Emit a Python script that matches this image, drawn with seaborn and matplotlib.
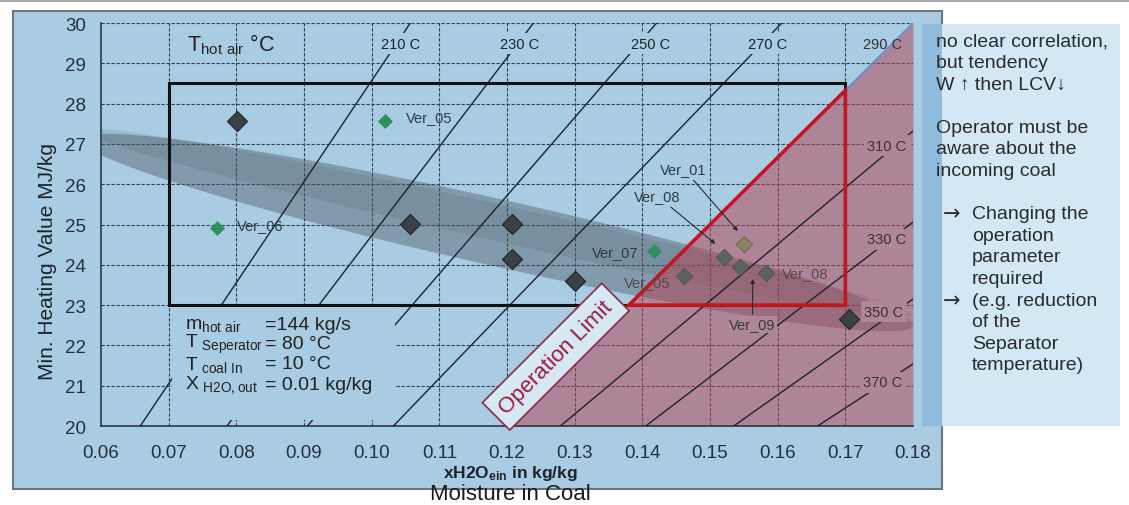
"""Drying chart: LCV vs. coal moisture with hot-air isotherms and operation limit."""

import numpy as np
import pandas as pd
import seaborn as sns
import matplotlib.pyplot as plt
from matplotlib.patches import Rectangle, Polygon

# hot-air isotherms (deg C), end points in (moisture kg/kg, LCV MJ/kg)
iso_temp = [210, 230, 250, 270, 310, 330, 350, 370]
iso_x0 = [0.0658, 0.0786, 0.0905, 0.1032, 0.1279, 0.1405, 0.1535, 0.1659]
iso_y0 = [20, 20, 20, 20, 20, 20, 20, 20]
iso_x1 = [0.1057, 0.1239, 0.1421, 0.1606, 0.18, 0.18, 0.18, 0.18]
iso_y1 = [30, 30, 30, 30, 27.32, 25.06, 23.15, 21.54]

iso_lbl_temp = [210, 230, 250, 270, 290, 310, 330, 350, 370]
iso_lbl_x = [0.1042, 0.1218, 0.1412, 0.1585, 0.1755, 0.1761, 0.1761, 0.1757, 0.1755]
iso_lbl_y = [29.48, 29.48, 29.48, 29.48, 29.48, 26.95, 24.64, 22.83, 21.09]

# 290 C isotherm = operation limit
limit_x = [0.12, 0.18]
limit_y = [20, 30]

# operating window and limited zone
window_x = [0.07, 0.17]
window_y = [23, 28.5]
tri_x = [0.138, 0.17, 0.17]
tri_y = [23, 28.33, 23]

# trend band (tips and half height)
band_left = (0.057, 27.1)
band_right = (0.18, 22.5)
band_half = 0.85

# trial points
dark_x = [0.0801, 0.1057, 0.1208, 0.1208, 0.1301, 0.1705]
dark_y = [27.57, 25.01, 25.01, 24.14, 23.60, 22.66]
green_x = [0.1020, 0.0772, 0.1417]
green_y = [27.57, 24.91, 24.34]
faded_x = [0.1550, 0.1520, 0.1545, 0.1582, 0.1461]
faded_y = [24.52, 24.19, 23.95, 23.80, 23.72]

ver_names = ["Ver_05", "Ver_06", "Ver_07"]
ver_x = [0.1050, 0.0801, 0.1394]
ver_y = [27.68, 24.99, 24.32]
ver_ha = ["left", "left", "right"]
faded_names = ["Ver_05", "Ver_08"]
faded_lx = [0.1442, 0.1607]
faded_ly = [23.57, 23.80]
faded_ha = ["right", "left"]

arrow_names = ["Ver_01", "Ver_08", "Ver_09"]
arrow_tx = [0.1461, 0.1422, 0.1563]
arrow_ty = [26.38, 25.71, 22.53]
arrow_px = [0.1541, 0.1508, 0.1563]
arrow_py = [24.84, 24.52, 23.65]

param_names = [r"$\mathregular{m_{hot\ air}}$", r"$\mathregular{T_{\ Seperator}}$",
               r"$\mathregular{T_{\ coal\ In}}$", r"$\mathregular{X_{\ H2O,out}}$"]
param_values = ["=144 kg/s", "= 80 °C", "= 10 °C", "= 0.01 kg/kg"]
param_y = [22.53, 22.04, 21.54, 21.04]

panel_lines = [
    (0, "no clear correlation,"), (0, "but tendency"), (0, "W ↑ then LCV↓"), (0, ""),
    (0, "Operator must be"), (0, "aware about the"), (0, "incoming coal"), (0, ""),
    (1, "Changing the"), (1, "operation"), (1, "parameter"), (1, "required"),
    (1, "(e.g. reduction"), (1, "of the"), (1, "Separator"), (1, "temperature)"),
]
panel_arrows = [8, 12]

BG = "#a9cce3"
PINK = "#b4404f"
PINK_MIX = "#ae8698"
INK = "#1c232a"

sns.set_style("white")
plt.rcParams["font.family"] = ["Liberation Sans", "DejaVu Sans"]
plt.rcParams["mathtext.fontset"] = "custom"
plt.rcParams["mathtext.rm"] = "Liberation Sans"
plt.rcParams["mathtext.bf"] = "Liberation Sans:bold"

fig = plt.figure(figsize=(11.29, 5.06), dpi=100)
fig.patch.set_facecolor("white")
fig.patches.append(Rectangle((0, 1 - 3 / 506), 1, 3 / 506, transform=fig.transFigure,
                             fc="#a8a8a8", lw=0, zorder=-2))
fig.patches.append(Rectangle((0.0115, 0.0316), 0.8229, 0.9447, transform=fig.transFigure,
                             fc=BG, ec="#6c7680", lw=1.5, zorder=-2))
fig.patches.append(Rectangle((0.8167, 0.1561), 0.1754, 0.7945, transform=fig.transFigure,
                             fc="#d3e7f4", lw=0, zorder=-1))
fig.patches.append(Rectangle((0.8167, 0.1561), 0.0177, 0.7945, transform=fig.transFigure,
                             fc="#8fbcdc", lw=0, zorder=-1))

ax = fig.add_axes([0.0895, 0.1561, 0.7192, 0.7964])
ax.set_facecolor(BG)
ax.set_xlim(0.06, 0.18)
ax.set_ylim(20, 30)

xt = np.round(np.arange(0.06, 0.1801, 0.01), 2)
yt = np.arange(20, 31, 1)
ax.set_xticks(xt)
ax.set_xticklabels([f"{v:.2f}" for v in xt])
ax.set_yticks(yt)
ax.set_xticks(np.arange(0.06, 0.1801, 0.002), minor=True)
ax.set_yticks(np.arange(20, 30.01, 0.2), minor=True)

# grid
ax.vlines(xt[1:-1], 20, 30, colors="#34404a", lw=0.8, linestyles=(0, (3, 1.5)), zorder=1)
ax.hlines(yt[1:], 0.06, 0.18, colors="#34404a", lw=0.8, linestyles=(0, (3, 1.5)), zorder=1)

# trend band
t = np.linspace(0, 2 * np.pi, 200)
cx = (band_left[0] + band_right[0]) / 2
cy = (band_left[1] + band_right[1]) / 2
hx = (band_right[0] - band_left[0]) / 2
hy = (band_right[1] - band_left[1]) / 2
bx = cx + np.cos(t) * hx
by = cy + np.cos(t) * hy + np.sin(t) * band_half
ax.add_patch(Polygon(np.c_[bx, by], closed=True, fc="#4a5660", alpha=0.42, lw=0, zorder=1.5))
by2 = cy + 0.25 + np.cos(t) * hy + np.sin(t) * band_half * 0.55
ax.add_patch(Polygon(np.c_[bx, by2], closed=True, fc="#4a5660", alpha=0.15, lw=0, zorder=1.6))

# operation limit zone
ax.fill_between(limit_x, limit_y, 20, color=PINK, alpha=0.5, lw=0, zorder=2)

# isotherms
iso_df = pd.DataFrame({
    "temp": np.repeat(iso_temp, 2),
    "x": np.ravel(np.c_[iso_x0, iso_x1]),
    "y": np.ravel(np.c_[iso_y0, iso_y1]),
})
sns.lineplot(data=iso_df, x="x", y="y", units="temp", estimator=None, sort=False,
             color=INK, lw=1.0, ax=ax, zorder=3)
x_top = window_x[1]
y_top = np.interp(x_top, limit_x, limit_y)
ax.plot([x_top, limit_x[1]], [y_top, limit_y[1]], color="#5b8fc9", lw=1.2, zorder=3)

for temp, lx, ly in zip(iso_lbl_temp, iso_lbl_x, iso_lbl_y):
    in_zone = ly < np.interp(lx, limit_x, limit_y) and temp != 290
    box = None if temp == 290 else dict(fc=PINK_MIX if in_zone else BG, ec="none", pad=2.5)
    ax.text(lx, ly, f"{temp} C", fontsize=10.5, color="#3a2f38" if temp >= 290 else INK,
            ha="center", va="center", bbox=box, zorder=3.5)

# operating window and limit triangle
ax.add_patch(Rectangle((window_x[0], window_y[0]), window_x[1] - window_x[0],
                       window_y[1] - window_y[0], fill=False, ec="#111111", lw=2.2, zorder=4))
ax.add_patch(Polygon(np.c_[tri_x, tri_y], closed=True, fill=False, ec="#c4161f",
                     lw=2.6, joinstyle="miter", zorder=4.2))

# parameter box
ax.add_patch(Rectangle((0.0705, 20.15), 0.033, 2.8, fc=BG, lw=0, zorder=4.5))
for name, val, py in zip(param_names, param_values, param_y):
    ax.text(0.0724, py, name, fontsize=14, color="#222", va="center", zorder=5)
    ax.text(0.0843, py, val, fontsize=14, color="#222", va="center", zorder=5)

ax.text(0.0727, 29.48, r"$\mathregular{T_{hot\ air}}$ °C", fontsize=15.5, color="#222",
        va="center", zorder=5)

# trial points
sns.scatterplot(x=dark_x, y=dark_y, marker="D", s=105, color="#3a4248",
                edgecolor="#1e2428", linewidth=0.8, ax=ax, zorder=6)
sns.scatterplot(x=green_x, y=green_y, marker="D", s=50, color="#2f8f5f",
                edgecolor="#2f8f5f", ax=ax, zorder=6)
sns.scatterplot(x=faded_x[:1], y=faded_y[:1], marker="D", s=70, color="#8c8264",
                edgecolor="#6d6650", ax=ax, zorder=6)
sns.scatterplot(x=faded_x[1:], y=faded_y[1:], marker="D", s=70, color="#5d625f",
                edgecolor="#4f5450", ax=ax, zorder=6)

for name, lx, ly, ha in zip(ver_names, ver_x, ver_y, ver_ha):
    ax.text(lx, ly, name, fontsize=10.5, color="#2f3a42", ha=ha, va="center", zorder=6)
for name, lx, ly, ha in zip(faded_names, faded_lx, faded_ly, faded_ha):
    ax.text(lx, ly, name, fontsize=10.5, color="#5a4652", ha=ha, va="center", zorder=6)
for name, tx, ty, px, py in zip(arrow_names, arrow_tx, arrow_ty, arrow_px, arrow_py):
    ax.annotate(name, xy=(px, py), xytext=(tx, ty), fontsize=10.5, color="#2f3a42",
                ha="center", va="center", zorder=6,
                bbox=dict(fc=PINK_MIX, ec="none", pad=1) if name == "Ver_09" else None,
                arrowprops=dict(arrowstyle="-|>", color="#2a2a2a", lw=0.8,
                                mutation_scale=6, shrinkA=1, shrinkB=0))

ax.text(0.1272, 21.72, "Operation Limit", fontsize=16, color="#9b1b3c", rotation=45,
        ha="center", va="center", rotation_mode="anchor", zorder=7,
        bbox=dict(boxstyle="square,pad=0.4", fc="#d6e8f3", ec="#8b2a45", lw=1.2))

# axes styling
for side in ["top", "right"]:
    ax.spines[side].set_visible(False)
for side in ["left", "bottom"]:
    ax.spines[side].set_color("#2c3640")
    ax.spines[side].set_linewidth(1.2)
ax.tick_params(which="major", direction="inout", length=8, width=1, color="#2c3640",
               labelsize=13.5, labelcolor="#24303a")
ax.tick_params(which="minor", direction="in", length=3, width=0.8, color="#2c3640")
ax.tick_params(axis="x", pad=9)
ax.tick_params(axis="y", pad=7)

ax.set_xlabel(r"$\mathbf{xH2O_{ein}}$ in kg/kg", fontsize=12.5, fontweight="bold",
              color="#1c232a")
ax.xaxis.set_label_coords(0.504, -0.093)
ax.set_ylabel("Min. Heating Value MJ/kg", fontsize=15, color="#1c232a")
ax.yaxis.set_label_coords(-0.054, 0.41)

# side notes
top_px, step_px = 42, 21.6
for i, (indent, line) in enumerate(panel_lines):
    y = 1 - (top_px + i * step_px) / 506
    x = (972 if indent else 936) / 1129
    fig.text(x, y, line, fontsize=14, color="#2b2b2b", va="center")
for i in panel_arrows:
    fig.text(943 / 1129, 1 - (top_px + i * step_px) / 506, "→", fontsize=15,
             family="DejaVu Sans", color="#2b2b2b", va="center")

fig.text(510 / 1129, 1 / 506, "Moisture in Coal", fontsize=16, color="#1a1a1a",
         ha="center", va="bottom")

fig.savefig("out.png", dpi=100)
